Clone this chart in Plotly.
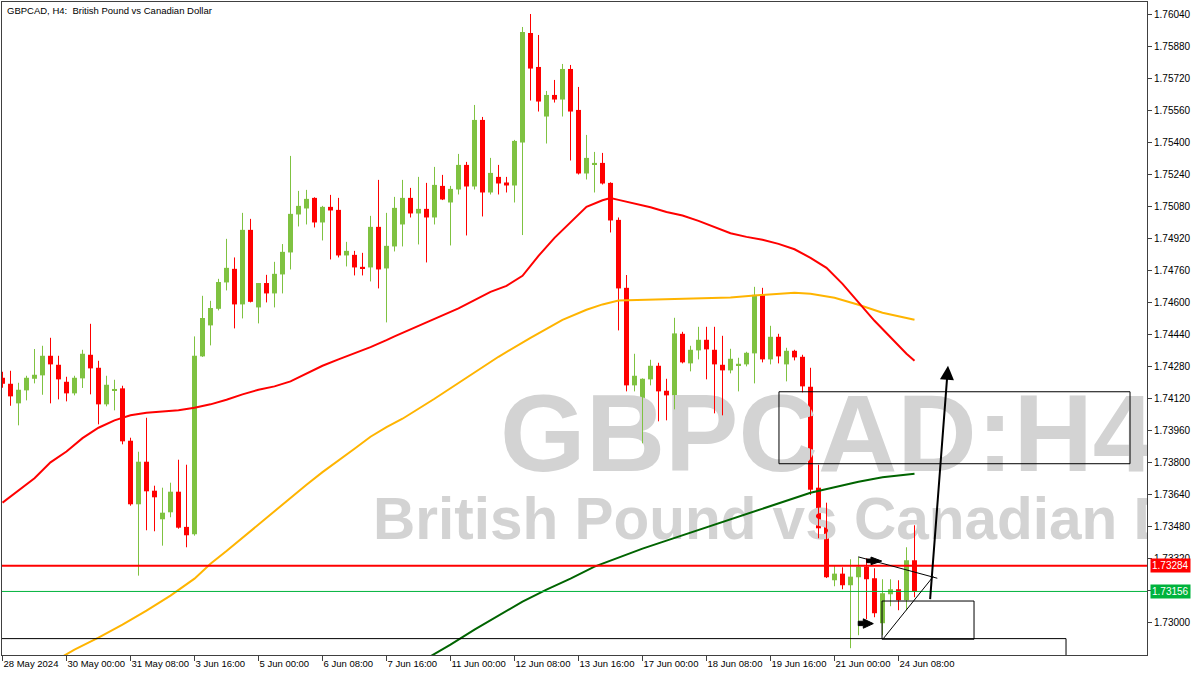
import plotly.graph_objects as go

# ---------------- data (H4 candles, index 0 = 28 May 2024 16:00) ----------------
opens = [1.74225, 1.74195, 1.74097, 1.74162, 1.74220, 1.74237, 1.74335, 1.74290, 1.74205, 1.74147,
         1.74222, 1.74340, 1.74275, 1.74092, 1.74162, 1.74172, 1.73910, 1.73592, 1.73805, 1.73660,
         1.73517, 1.73552, 1.73655, 1.73479, 1.73442, 1.74332, 1.74487, 1.74570, 1.74702, 1.74770,
         1.74592, 1.74965, 1.74577, 1.74699, 1.74647, 1.74742, 1.74852, 1.75042, 1.75072, 1.75125,
         1.75002, 1.75080, 1.75065, 1.74837, 1.74840, 1.74780, 1.74777, 1.74980, 1.74772, 1.74882,
         1.74992, 1.75125, 1.75047, 1.75070, 1.75027, 1.75185, 1.75102, 1.75167, 1.75290, 1.75182,
         1.75515, 1.75152, 1.75230, 1.75202, 1.75187, 1.75402, 1.75950, 1.75780, 1.75532, 1.75640,
         1.75617, 1.75770, 1.75565, 1.75247, 1.75292, 1.75300, 1.75200, 1.75015, 1.74675, 1.74187,
         1.74017, 1.74217, 1.74285, 1.74160, 1.74137, 1.74445, 1.74297, 1.74362, 1.74415, 1.74365,
         1.74290, 1.74262, 1.74287, 1.74292, 1.74347, 1.74640, 1.74317, 1.74430, 1.74292, 1.74360,
         1.74330, 1.74180, 1.73675, 1.73480, 1.73212, 1.73245, 1.73187, 1.73227, 1.73280, 1.73222,
         1.72997, 1.73142, 1.73167, 1.73112, 1.73312]
highs = [1.74255, 1.74260, 1.74200, 1.74235, 1.74369, 1.74385, 1.74425, 1.74335, 1.74230, 1.74235,
         1.74365, 1.74495, 1.74310, 1.74235, 1.74215, 1.74185, 1.73925, 1.73855, 1.74025, 1.73685,
         1.73675, 1.73700, 1.73815, 1.73790, 1.74432, 1.74635, 1.74610, 1.74720, 1.74920, 1.74827,
         1.75050, 1.75020, 1.74699, 1.74740, 1.74805, 1.74894, 1.75335, 1.75160, 1.75165, 1.75128,
         1.75085, 1.75140, 1.75125, 1.74905, 1.74860, 1.74850, 1.75035, 1.75215, 1.75050, 1.75130,
         1.75215, 1.75175, 1.75230, 1.75200, 1.75280, 1.75240, 1.75185, 1.75345, 1.75305, 1.75590,
         1.75530, 1.75325, 1.75290, 1.75230, 1.75415, 1.75980, 1.76045, 1.75940, 1.75660, 1.75715,
         1.75795, 1.75790, 1.75680, 1.75440, 1.75355, 1.75350, 1.75203, 1.75027, 1.74739, 1.74345,
         1.74222, 1.74315, 1.74300, 1.74220, 1.74525, 1.74455, 1.74385, 1.74480, 1.74480, 1.74480,
         1.74435, 1.74370, 1.74325, 1.74355, 1.74680, 1.74675, 1.74485, 1.74445, 1.74375, 1.74365,
         1.74340, 1.74275, 1.73790, 1.73600, 1.73287, 1.73277, 1.73317, 1.73327, 1.73322, 1.73272,
         1.73217, 1.73217, 1.73212, 1.73377, 1.73487]
lows = [1.74175, 1.74085, 1.73987, 1.74112, 1.74197, 1.74140, 1.74097, 1.74117, 1.74107, 1.74137,
        1.74174, 1.74142, 1.73992, 1.74082, 1.74062, 1.73892, 1.73585, 1.73235, 1.73462, 1.73457,
        1.73385, 1.73527, 1.73470, 1.73377, 1.73435, 1.74329, 1.74387, 1.74562, 1.74662, 1.74472,
        1.74522, 1.74602, 1.74497, 1.74602, 1.74577, 1.74647, 1.74767, 1.74982, 1.74992, 1.74977,
        1.74912, 1.74817, 1.74827, 1.74782, 1.74737, 1.74737, 1.74707, 1.74672, 1.74502, 1.74857,
        1.74882, 1.75027, 1.74892, 1.74802, 1.74992, 1.75114, 1.74887, 1.75142, 1.74937, 1.75167,
        1.75032, 1.75142, 1.75142, 1.75152, 1.75102, 1.74939, 1.75612, 1.75557, 1.75397, 1.75602,
        1.75532, 1.75312, 1.75242, 1.75217, 1.75152, 1.75192, 1.74952, 1.74462, 1.74157, 1.74157,
        1.73897, 1.74187, 1.74007, 1.74012, 1.74067, 1.74297, 1.74257, 1.74317, 1.74217, 1.74047,
        1.74037, 1.74247, 1.74157, 1.74282, 1.74197, 1.74302, 1.74292, 1.74297, 1.74207, 1.74312,
        1.74152, 1.73639, 1.73422, 1.73223, 1.73182, 1.73167, 1.72872, 1.72937, 1.73017, 1.73027,
        1.72937, 1.73082, 1.73062, 1.73062, 1.73127]
closes = [1.74195, 1.74132, 1.74165, 1.74225, 1.74240, 1.74335, 1.74292, 1.74217, 1.74147, 1.74225,
          1.74345, 1.74272, 1.74092, 1.74190, 1.74169, 1.73907, 1.73592, 1.73805, 1.73657, 1.73627,
          1.73550, 1.73655, 1.73475, 1.73437, 1.74335, 1.74524, 1.74574, 1.74704, 1.74775, 1.74592,
          1.74965, 1.74605, 1.74699, 1.74647, 1.74745, 1.74855, 1.75045, 1.75085, 1.75120, 1.75002,
          1.75080, 1.75062, 1.74837, 1.74860, 1.74777, 1.74772, 1.74980, 1.74767, 1.74885, 1.75075,
          1.75125, 1.75047, 1.75070, 1.75027, 1.75190, 1.75117, 1.75170, 1.75290, 1.75182, 1.75515,
          1.75152, 1.75250, 1.75197, 1.75187, 1.75410, 1.75955, 1.75772, 1.75607, 1.75640, 1.75617,
          1.75770, 1.75557, 1.75247, 1.75325, 1.75300, 1.75197, 1.75012, 1.74672, 1.74187, 1.74235,
          1.74220, 1.74285, 1.74157, 1.74137, 1.74447, 1.74302, 1.74365, 1.74415, 1.74367, 1.74292,
          1.74262, 1.74320, 1.74295, 1.74350, 1.74640, 1.74317, 1.74430, 1.74332, 1.74360, 1.74327,
          1.74182, 1.73665, 1.73472, 1.73227, 1.73245, 1.73187, 1.73230, 1.73280, 1.73217, 1.73047,
          1.73147, 1.73167, 1.73112, 1.73312, 1.73156]

# moving averages (candle index, value)
ma_red_idx = [0, 2, 4, 6, 8, 10, 12, 14, 16, 18, 20, 22, 24, 26, 28, 30, 32, 34, 36, 38, 40, 42, 44, 46, 48, 49,
              53, 57, 61, 63, 65, 67, 69, 71, 73, 75, 76, 77, 79, 81, 83, 85, 87, 89, 91, 93, 95, 97, 99,
              101, 103, 105, 107, 109, 111, 113, 114]
ma_red_val = [1.73600, 1.73660, 1.73722, 1.73802, 1.73856, 1.73923, 1.73975, 1.74012, 1.74037, 1.74050,
              1.74057, 1.74063, 1.74075, 1.74092, 1.74115, 1.74142, 1.74165, 1.74182, 1.74207, 1.74247,
              1.74285, 1.74317, 1.74346, 1.74378, 1.74413, 1.74432, 1.74502, 1.74572, 1.74655, 1.74685,
              1.74735, 1.74835, 1.74925, 1.75000, 1.75080, 1.75113, 1.75124, 1.75115, 1.75097, 1.75078,
              1.75054, 1.75037, 1.75010, 1.74978, 1.74948, 1.74930, 1.74915, 1.74895, 1.74868, 1.74825,
              1.74775, 1.74695, 1.74605, 1.74510, 1.74428, 1.74345, 1.74310]
ma_orange_idx = [6, 8, 9, 12, 15, 18, 21, 24, 26, 28, 30, 32, 34, 36, 38, 40, 42, 44, 46, 48, 50,
                 54, 58, 62, 66, 70, 73, 75, 77, 80, 84, 88, 91, 94, 97, 99, 101, 104, 107, 110, 114]
ma_orange_val = [1.72795, 1.72840, 1.72865, 1.72925, 1.72990, 1.73060, 1.73135, 1.73220, 1.73295, 1.73358,
                 1.73424, 1.73490, 1.73560, 1.73625, 1.73690, 1.73753, 1.73810, 1.73870, 1.73930, 1.73978,
                 1.74020, 1.74120, 1.74225, 1.74330, 1.74425, 1.74515, 1.74565, 1.74592, 1.74612, 1.74615,
                 1.74618, 1.74621, 1.74627, 1.74637, 1.74647, 1.74650, 1.74645, 1.74625, 1.74590, 1.74550,
                 1.74515]
ma_green_idx = [53, 56, 59, 62, 65, 68, 71, 74, 77, 80, 83, 86, 89, 92, 95, 98, 101, 104, 107, 110, 114]
ma_green_val = [1.72820, 1.72890, 1.72965, 1.73035, 1.73105, 1.73165, 1.73220, 1.73280, 1.73325, 1.73370,
                1.73410, 1.73450, 1.73490, 1.73530, 1.73570, 1.73612, 1.73650, 1.73677, 1.73705, 1.73727,
                1.73745]

x_tick_idx = [0, 8, 16, 24, 32, 40, 48, 56, 64, 72, 80, 88, 96, 104, 112]
x_tick_labels = ["28 May 2024", "30 May 00:00", "31 May 08:00", "3 Jun 16:00", "5 Jun 00:00",
                 "6 Jun 08:00", "7 Jun 16:00", "11 Jun 00:00", "12 Jun 08:00", "13 Jun 16:00",
                 "17 Jun 00:00", "18 Jun 08:00", "19 Jun 16:00", "21 Jun 00:00", "24 Jun 08:00"]
y_ticks = [1.73000, 1.73160, 1.73320, 1.73480, 1.73640, 1.73800, 1.73960, 1.74120, 1.74280,
           1.74440, 1.74600, 1.74760, 1.74920, 1.75080, 1.75240, 1.75400, 1.75560, 1.75720,
           1.75880, 1.76040]

level_line = 1.73284
bid_price = closes[-1]

# drawing objects (candle index / price units)
zone_box = (97.06, 140.94, 1.73795, 1.74155)
small_box = (109.94, 121.44, 1.72917, 1.73108)
bottom_box = (-5.0, 132.94, 1.72700, 1.72920)
big_arrow = ((115.94, 1.73110), (118.19, 1.74285))
thin_line_a = ((106.97, 1.73329), (116.85, 1.73222))
thin_line_b = ((110.10, 1.72920), (116.35, 1.73231))
arrow_mark_1 = [(108.03, 1.73318), (108.56, 1.73318), (108.56, 1.73328), (109.90, 1.73308),
                (108.56, 1.73290), (108.56, 1.73300), (108.03, 1.73300)]
arrow_mark_2 = [(106.97, 1.73007), (107.60, 1.73007), (107.60, 1.73019), (108.85, 1.72995),
                (107.60, 1.72972), (107.60, 1.72985), (106.97, 1.72985)]

# ---------------- figure ----------------
GREEN = "#7fc241"
RED = "#ff0000"
FONT = "Liberation Sans"

n = len(opens)
idx = list(range(n))
fig = go.Figure()

# watermark (drawn first, under the candles)
fig.add_trace(go.Scatter(x=[62.2], y=[1.73897], mode="text", text=["GBPCAD:H4"],
                         textposition="middle right", cliponaxis=True, hoverinfo="skip",
                         textfont=dict(size=110, color="#d3d3d3", family=FONT, weight="bold"),
                         showlegend=False))
fig.add_trace(go.Scatter(x=[46.3], y=[1.73490], mode="text", text=["British Pound vs Canadian Dollar"],
                         textposition="middle right", cliponaxis=True, hoverinfo="skip",
                         textfont=dict(size=58.5, color="#d3d3d3", family=FONT, weight="bold"),
                         showlegend=False))

for up, col in ((True, GREEN), (False, RED)):
    sel = [i for i in idx if (closes[i] >= opens[i]) == up]
    wx, wy = [], []
    for i in sel:
        wx += [i, i, None]
        wy += [lows[i], highs[i], None]
    fig.add_trace(go.Scatter(x=wx, y=wy, mode="lines", line=dict(color=col, width=1),
                             hoverinfo="skip", showlegend=False))
    base = [min(opens[i], closes[i]) for i in sel]
    height = [max(abs(closes[i] - opens[i]), 0.00004) for i in sel]
    fig.add_trace(go.Bar(x=sel, base=base, y=height, width=0.625, marker=dict(color=col, line=dict(width=0)),
                         hoverinfo="skip", showlegend=False))

fig.add_trace(go.Scatter(x=ma_green_idx, y=ma_green_val, mode="lines", line=dict(color="#006400", width=2),
                         hoverinfo="skip", showlegend=False))
fig.add_trace(go.Scatter(x=ma_orange_idx, y=ma_orange_val, mode="lines", line=dict(color="#ffb400", width=2),
                         hoverinfo="skip", showlegend=False))
fig.add_trace(go.Scatter(x=ma_red_idx, y=ma_red_val, mode="lines", line=dict(color=RED, width=2),
                         hoverinfo="skip", showlegend=False))

shapes = []
shapes.append(dict(type="line", xref="paper", x0=0, x1=1, yref="y", y0=level_line, y1=level_line,
                   line=dict(color=RED, width=2)))
shapes.append(dict(type="line", xref="paper", x0=0, x1=1, yref="y", y0=bid_price, y1=bid_price,
                   line=dict(color="#00b33c", width=1)))
for b in (zone_box, small_box, bottom_box):
    shapes.append(dict(type="rect", xref="x", yref="y", x0=b[0], x1=b[1], y0=b[2], y1=b[3],
                       line=dict(color="black", width=1), fillcolor="rgba(0,0,0,0)"))
for ln in (thin_line_a, thin_line_b):
    shapes.append(dict(type="line", xref="x", yref="y", x0=ln[0][0], y0=ln[0][1], x1=ln[1][0], y1=ln[1][1],
                       line=dict(color="black", width=1)))
for poly in (arrow_mark_1, arrow_mark_2):
    path = "M " + " L ".join(f"{px},{py}" for px, py in poly) + " Z"
    shapes.append(dict(type="path", xref="x", yref="y", path=path, fillcolor="black",
                       line=dict(color="black", width=1)))

annotations = [
    dict(x=big_arrow[1][0], y=big_arrow[1][1], ax=big_arrow[0][0], ay=big_arrow[0][1],
         xref="x", yref="y", axref="x", ayref="y", text="", showarrow=True,
         arrowhead=2, arrowsize=1.4, arrowwidth=2, arrowcolor="black", standoff=0),
    dict(xref="paper", yref="paper", x=0, y=1, xanchor="left", yanchor="top", xshift=3, yshift=-1,
         text="GBPCAD, H4:  British Pound vs Canadian Dollar", showarrow=False,
         font=dict(family=FONT, size=9.5, color="black")),
    dict(xref="paper", yref="y", x=1, y=level_line, xanchor="left", yanchor="middle", xshift=3,
         text=f"{level_line:.5f}", showarrow=False, bgcolor=RED, borderpad=1,
         font=dict(family=FONT, size=10, color="white")),
    dict(xref="paper", yref="y", x=1, y=bid_price, xanchor="left", yanchor="middle", xshift=3,
         text=f"{bid_price:.5f}", showarrow=False, bgcolor="#00b33c", borderpad=1,
         font=dict(family=FONT, size=10, color="white")),
]

fig.update_layout(
    width=1200, height=675,
    margin=dict(l=2, r=53, t=2, b=20, autoexpand=False),
    paper_bgcolor="white", plot_bgcolor="white",
    barmode="overlay", showlegend=False, hovermode=False,
    shapes=shapes, annotations=annotations,
    xaxis=dict(range=[-0.0625, 143.0625], tickvals=x_tick_idx, ticktext=x_tick_labels,
               ticks="outside", ticklen=5, tickcolor="#404040", ticklabelposition="outside right",
               tickangle=0, automargin=False,
               tickfont=dict(family=FONT, size=9.5, color="black"),
               showline=True, mirror=True, linecolor="#404040", linewidth=1,
               showgrid=False, zeroline=False, fixedrange=True),
    yaxis=dict(range=[1.72838, 1.76105], side="right", tickvals=y_ticks,
               ticktext=[f"{v:.5f}" for v in y_ticks], automargin=False,
               ticks="outside", ticklen=4, tickcolor="#404040",
               tickfont=dict(family=FONT, size=10, color="black"),
               showline=True, mirror=True, linecolor="#404040", linewidth=1,
               showgrid=False, zeroline=False, fixedrange=True),
)

fig.write_html("out.html", config={"displayModeBar": False},
               post_script="document.body.style.margin='0px';document.body.style.overflow='hidden';")
